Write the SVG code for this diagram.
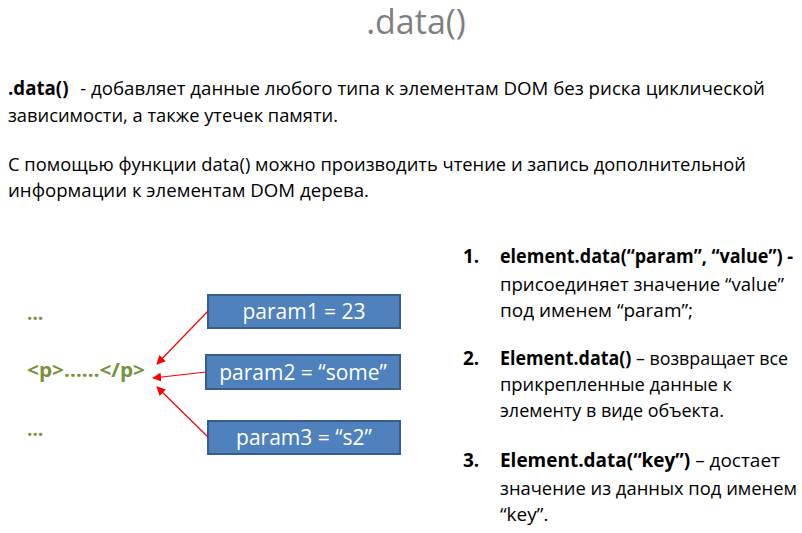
<svg xmlns="http://www.w3.org/2000/svg" width="802" height="533" viewBox="0 0 802 533">
  <style>
    .title { font-family: "Open Sans", "Noto Sans", sans-serif; font-size: 34px; fill: #7f7f7f; }
    .body { font-family: "Open Sans", "Noto Sans", sans-serif; font-size: 19px; fill: #000; }
    .b { font-weight: bold; }
    .code { font-family: "Open Sans", "Noto Sans", sans-serif; font-size: 19px; font-weight: bold; fill: #77933c; }
    .box { fill: #4f81bd; stroke: #385d8a; stroke-width: 2; }
    .boxtext { font-family: "Open Sans", "Noto Sans", sans-serif; font-size: 21px; fill: #fff; text-anchor: middle; }
    .conn { stroke: #ff0000; stroke-width: 1.2; fill: none; marker-end: url(#arrow); }
  </style>
  <defs>
    <marker id="arrow" viewBox="0 0 10 10" refX="9" refY="5" markerWidth="9" markerHeight="9" markerUnits="userSpaceOnUse" orient="auto">
      <path d="M0,0 L10,5 L0,10 z" fill="#ff0000"/>
    </marker>
  </defs>
  <rect width="802" height="533" fill="#fff"/>

  <text class="title" x="416" y="34" text-anchor="middle">.data()</text>

  <g id="intro">
    <text class="body" x="8" y="95" textLength="757" lengthAdjust="spacingAndGlyphs"><tspan class="b">.data()</tspan><tspan dx="7"> - добавляет данные любого типа к элементам DOM без риска циклической</tspan></text>
    <text class="body" x="8" y="122" textLength="330" lengthAdjust="spacingAndGlyphs">зависимости, а также утечек памяти.</text>
    <text class="body" x="8" y="171" textLength="738" lengthAdjust="spacingAndGlyphs">С помощью функции data() можно производить чтение и запись дополнительной</text>
    <text class="body" x="8" y="197" textLength="361" lengthAdjust="spacingAndGlyphs">информации к элементам DOM дерева.</text>
  </g>

  <g id="methods">
    <text class="body b" x="463" y="263">1.</text>
    <text class="body" x="500" y="263" textLength="293" lengthAdjust="spacingAndGlyphs"><tspan class="b">element.data(“param”, “value”) -</tspan></text>
    <text class="body" x="500" y="291" textLength="284" lengthAdjust="spacingAndGlyphs">присоединяет значение “value”</text>
    <text class="body" x="500" y="317" textLength="193" lengthAdjust="spacingAndGlyphs">под именем “param”;</text>

    <text class="body b" x="463" y="365">2.</text>
    <text class="body" x="500" y="365" textLength="288" lengthAdjust="spacingAndGlyphs"><tspan class="b">Element.data()</tspan> – возвращает все</text>
    <text class="body" x="500" y="391" textLength="232" lengthAdjust="spacingAndGlyphs">прикрепленные данные к</text>
    <text class="body" x="500" y="417" textLength="224" lengthAdjust="spacingAndGlyphs">элементу в виде объекта.</text>

    <text class="body b" x="463" y="467">3.</text>
    <text class="body" x="500" y="467" textLength="280" lengthAdjust="spacingAndGlyphs"><tspan class="b">Element.data(“key”)</tspan> – достает</text>
    <text class="body" x="500" y="495" textLength="297" lengthAdjust="spacingAndGlyphs">значение из данных под именем</text>
    <text class="body" x="500" y="521">“key”.</text>
  </g>

  <g id="dom-before">
    <text class="code" x="27" y="320">…</text>
  </g>
  <g id="p-element">
    <text class="code" x="27" y="377" textLength="118" lengthAdjust="spacingAndGlyphs">&lt;p&gt;……&lt;/p&gt;</text>
  </g>
  <g id="dom-after">
    <text class="code" x="27" y="436">…</text>
  </g>

  <g id="param1">
    <rect class="box" x="208" y="295" width="192" height="33"/>
    <text class="boxtext" x="304" y="319">param1 = 23</text>
  </g>
  <g id="param2">
    <rect class="box" x="206" y="355" width="194" height="34"/>
    <text class="boxtext" x="303" y="380">param2 = “some”</text>
  </g>
  <g id="param3">
    <rect class="box" x="208" y="421" width="192" height="33"/>
    <text class="boxtext" x="304" y="445">param3 = “s2”</text>
  </g>

  <g id="connectors">
    <line class="conn" x1="208" y1="311" x2="157" y2="364"/>
    <line class="conn" x1="206" y1="372" x2="153" y2="378"/>
    <line class="conn" x1="208" y1="437" x2="157" y2="387"/>
  </g>
</svg>
